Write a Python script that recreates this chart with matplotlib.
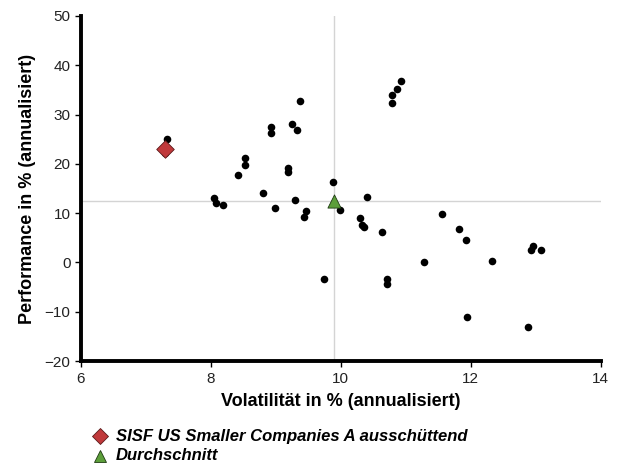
import matplotlib
matplotlib.use("Agg")
import matplotlib.pyplot as plt

plt.rcParams['font.family'] = ['Liberation Sans', 'DejaVu Sans']

# peer funds: volatility / performance (annualised, %)
peer_vol = [7.32, 8.92, 8.92, 9.25, 9.32, 9.37, 8.52, 8.52, 8.42, 9.18, 9.18,
            8.80, 8.05, 8.08, 8.19, 8.98, 9.30, 9.46, 9.43, 9.88, 9.98, 10.40,
            10.30, 10.32, 10.35, 10.92, 10.86, 10.78, 10.78, 11.56, 11.82, 11.92,
            10.64, 11.28, 12.32, 12.96, 12.93, 13.08, 9.74, 10.71, 10.71, 11.94,
            12.88, 7.30]
peer_perf = [25.0, 27.5, 26.3, 28.0, 26.9, 32.8, 21.1, 19.8, 17.7, 19.1, 18.3,
             14.1, 13.0, 12.1, 11.7, 11.1, 12.6, 10.4, 9.2, 16.3, 10.7, 13.3,
             9.0, 7.6, 7.2, 36.8, 35.2, 34.0, 32.4, 9.8, 6.7, 4.6,
             6.1, 0.0, 0.3, 3.4, 2.5, 2.5, -3.3, -3.3, -4.3, -11.0,
             -13.1, 22.2]

fund_name = 'SISF US Smaller Companies A ausschüttend'
fund_vol = 7.29
fund_perf = 23.0

avg_name = 'Durchschnitt'
avg_vol = 9.9
avg_perf = 12.5

fig = plt.figure(figsize=(6.22, 4.66), dpi=100)
ax = fig.add_axes([0.130, 0.225, 0.836, 0.741])

ax.axvline(avg_vol, color='#d4d4d4', lw=1, zorder=1)
ax.axhline(avg_perf, color='#d4d4d4', lw=1, zorder=1)

ax.scatter(peer_vol, peer_perf, s=30, color='black', zorder=3, linewidths=0)
ax.scatter([fund_vol], [fund_perf], marker='D', s=80, color='#c0393b',
           edgecolors='#5a1a1a', linewidths=0.6, zorder=4)
ax.scatter([avg_vol], [avg_perf], marker='^', s=90, color='#5c9e3a',
           edgecolors='#1e3a12', linewidths=0.6, zorder=4)

ax.set_xlim(6, 14)
ax.set_ylim(-20, 50)
ax.set_xticks([6, 8, 10, 12, 14])
ax.set_yticks(range(-20, 51, 10))

for s in ['top', 'right']:
    ax.spines[s].set_visible(False)
ax.spines['left'].set_linewidth(2.8)
ax.spines['bottom'].set_linewidth(2.8)
ax.tick_params(labelsize=11, length=4, width=1, colors='black', labelcolor='#222222')

ax.set_xlabel('Volatilität in % (annualisiert)', fontsize=13, fontweight='bold', labelpad=5)
ax.set_ylabel('Performance in % (annualisiert)', fontsize=13, fontweight='bold', labelpad=6)

# legend below the plot
fig.lines.append(plt.Line2D([100 / 622], [1 - 436 / 466], marker='D', markersize=8,
                            color='#c0393b', markeredgecolor='#5a1a1a', markeredgewidth=0.6,
                            transform=fig.transFigure, linestyle='none'))
fig.lines.append(plt.Line2D([100 / 622], [1 - 456 / 466], marker='^', markersize=9,
                            color='#5c9e3a', markeredgecolor='#1e3a12', markeredgewidth=0.6,
                            transform=fig.transFigure, linestyle='none'))
fig.text(116 / 622, 1 - 436 / 466, fund_name, fontsize=12, fontweight='bold',
         style='italic', va='center', ha='left')
fig.text(116 / 622, 1 - 456 / 466, avg_name, fontsize=12, fontweight='bold',
         style='italic', va='center', ha='left')

fig.savefig('out.png', dpi=100)
